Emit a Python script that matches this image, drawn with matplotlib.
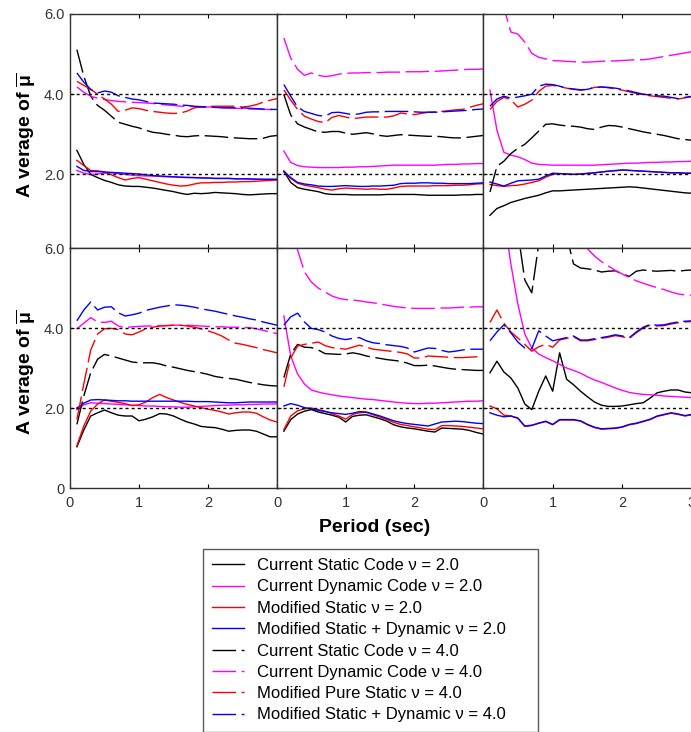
import numpy as np
import matplotlib
matplotlib.use('Agg')
import matplotlib.pyplot as plt

plt.rcParams['font.family'] = ['Liberation Sans', 'DejaVu Sans']
plt.rcParams['mathtext.fontset'] = 'custom'
plt.rcParams['mathtext.rm'] = 'Liberation Sans'
plt.rcParams['mathtext.bf'] = 'Liberation Sans:bold'
plt.rcParams['mathtext.it'] = 'Liberation Sans:italic'

# Period (sec)
period = np.round(np.arange(1, 31) * 0.1, 1)

# --- top-left panel
tl_static2 = [2.60, 2.25, 2.00, 1.92, 1.85, 1.80, 1.74, 1.71, 1.70, 1.70, 1.68, 1.66, 1.63, 1.60, 1.57,
              1.53, 1.50, 1.53, 1.52, 1.53, 1.55, 1.54, 1.53, 1.52, 1.50, 1.49, 1.50, 1.51, 1.52, 1.52]
tl_dyn2 = [2.10, 2.03, 2.00, 2.01, 2.03, 2.04, 2.02, 2.00, 1.98, 1.97, 1.96, 1.96, 1.95, 1.94, 1.94,
           1.93, 1.93, 1.92, 1.92, 1.91, 1.90, 1.90, 1.90, 1.89, 1.89, 1.88, 1.88, 1.87, 1.87, 1.87]
tl_mod2 = [2.35, 2.22, 2.10, 2.09, 2.06, 1.99, 1.92, 1.86, 1.90, 1.92, 1.88, 1.84, 1.80, 1.76, 1.73,
           1.71, 1.72, 1.76, 1.79, 1.79, 1.80, 1.80, 1.81, 1.81, 1.82, 1.82, 1.83, 1.84, 1.85, 1.86]
tl_mix2 = [2.20, 2.10, 2.07, 2.07, 2.06, 2.05, 2.04, 2.03, 2.02, 2.01, 1.99, 1.97, 1.96, 1.95, 1.94,
           1.93, 1.92, 1.92, 1.91, 1.91, 1.90, 1.90, 1.90, 1.89, 1.89, 1.89, 1.88, 1.88, 1.88, 1.88]
tl_static4 = [5.11, 4.45, 3.95, 3.72, 3.60, 3.45, 3.30, 3.25, 3.20, 3.16, 3.10, 3.05, 3.03, 3.00, 2.98,
              2.95, 2.94, 2.96, 2.97, 2.96, 2.95, 2.94, 2.92, 2.91, 2.90, 2.89, 2.89, 2.90, 2.95, 2.97]
tl_dyn4 = [4.18, 4.05, 3.95, 3.90, 3.87, 3.84, 3.82, 3.81, 3.80, 3.79, 3.78, 3.77, 3.75, 3.73, 3.72,
           3.70, 3.70, 3.69, 3.68, 3.68, 3.68, 3.67, 3.66, 3.65, 3.64, 3.63, 3.63, 3.62, 3.62, 3.62]
tl_mod4 = [4.32, 4.22, 4.12, 4.00, 3.88, 3.75, 3.57, 3.60, 3.66, 3.64, 3.60, 3.57, 3.55, 3.53, 3.52,
           3.53, 3.58, 3.66, 3.68, 3.69, 3.70, 3.70, 3.70, 3.70, 3.68, 3.70, 3.74, 3.80, 3.85, 3.89]
tl_mix4 = [4.53, 4.30, 4.12, 4.03, 4.08, 4.05, 3.96, 3.92, 3.88, 3.86, 3.82, 3.78, 3.77, 3.76, 3.75,
           3.73, 3.72, 3.70, 3.69, 3.68, 3.67, 3.66, 3.66, 3.66, 3.66, 3.65, 3.64, 3.63, 3.62, 3.62]

# --- top-middle panel
tm_static2 = [2.08, 1.80, 1.67, 1.63, 1.60, 1.57, 1.52, 1.50, 1.50, 1.50, 1.49, 1.49, 1.49, 1.49, 1.49,
              1.50, 1.50, 1.50, 1.50, 1.50, 1.49, 1.48, 1.48, 1.48, 1.48, 1.48, 1.49, 1.49, 1.50, 1.50]
tm_dyn2 = [2.58, 2.30, 2.22, 2.19, 2.18, 2.17, 2.17, 2.17, 2.17, 2.18, 2.18, 2.19, 2.19, 2.20, 2.21,
           2.22, 2.23, 2.23, 2.23, 2.23, 2.23, 2.23, 2.23, 2.24, 2.25, 2.25, 2.26, 2.26, 2.27, 2.27]
tm_mod2 = [2.06, 1.90, 1.78, 1.73, 1.70, 1.67, 1.63, 1.61, 1.64, 1.66, 1.65, 1.64, 1.63, 1.64, 1.63,
           1.63, 1.66, 1.70, 1.71, 1.71, 1.71, 1.71, 1.72, 1.72, 1.72, 1.73, 1.73, 1.74, 1.76, 1.77]
tm_mix2 = [2.08, 1.92, 1.80, 1.76, 1.74, 1.71, 1.70, 1.70, 1.71, 1.72, 1.71, 1.70, 1.70, 1.71, 1.71,
           1.72, 1.73, 1.77, 1.78, 1.78, 1.79, 1.79, 1.78, 1.78, 1.77, 1.77, 1.77, 1.77, 1.78, 1.79]
tm_static4 = [3.99, 3.48, 3.26, 3.18, 3.12, 3.06, 3.05, 3.07, 3.07, 3.03, 3.00, 3.02, 3.04, 3.01, 2.97,
              2.95, 2.97, 2.99, 2.98, 2.97, 2.96, 2.95, 2.95, 2.94, 2.92, 2.91, 2.91, 2.93, 2.95, 2.97]
tm_dyn4 = [5.40, 4.90, 4.62, 4.47, 4.53, 4.47, 4.44, 4.46, 4.50, 4.52, 4.53, 4.53, 4.54, 4.54, 4.54,
           4.55, 4.55, 4.55, 4.56, 4.56, 4.56, 4.57, 4.57, 4.58, 4.59, 4.60, 4.61, 4.62, 4.62, 4.63]
tm_mod4 = [4.11, 3.85, 3.62, 3.45, 3.38, 3.32, 3.29, 3.42, 3.47, 3.43, 3.39, 3.41, 3.43, 3.43, 3.43,
           3.43, 3.46, 3.53, 3.51, 3.49, 3.52, 3.55, 3.56, 3.57, 3.59, 3.61, 3.62, 3.67, 3.72, 3.76]
tm_mix4 = [4.24, 3.95, 3.68, 3.57, 3.52, 3.47, 3.45, 3.54, 3.55, 3.52, 3.49, 3.51, 3.55, 3.56, 3.56,
           3.57, 3.57, 3.57, 3.57, 3.56, 3.55, 3.55, 3.55, 3.56, 3.57, 3.58, 3.59, 3.60, 3.62, 3.63]

# --- top-right panel
tr_static2 = [0.98, 1.15, 1.22, 1.30, 1.35, 1.40, 1.44, 1.48, 1.54, 1.59, 1.59, 1.60, 1.61, 1.62, 1.63,
              1.64, 1.65, 1.66, 1.67, 1.68, 1.69, 1.68, 1.66, 1.64, 1.62, 1.60, 1.58, 1.56, 1.54, 1.53]
tr_dyn2 = [4.10, 3.10, 2.55, 2.48, 2.44, 2.37, 2.28, 2.25, 2.24, 2.23, 2.23, 2.23, 2.23, 2.23, 2.23,
           2.23, 2.24, 2.25, 2.26, 2.27, 2.28, 2.28, 2.29, 2.30, 2.30, 2.31, 2.31, 2.32, 2.32, 2.33]
tr_mod2 = [1.75, 1.72, 1.70, 1.72, 1.73, 1.76, 1.80, 1.84, 1.93, 2.00, 2.02, 2.01, 2.00, 2.01, 2.03,
           2.04, 2.06, 2.08, 2.10, 2.11, 2.10, 2.09, 2.08, 2.07, 2.06, 2.05, 2.04, 2.04, 2.03, 2.03]
tr_mix2 = [1.81, 1.76, 1.71, 1.78, 1.84, 1.85, 1.86, 1.88, 1.96, 2.03, 2.02, 2.01, 2.00, 2.01, 2.02,
           2.04, 2.06, 2.08, 2.09, 2.11, 2.10, 2.09, 2.08, 2.07, 2.06, 2.05, 2.04, 2.04, 2.03, 2.03]
tr_static4 = [1.56, 2.20, 2.33, 2.52, 2.65, 2.75, 2.91, 3.08, 3.25, 3.26, 3.23, 3.21, 3.20, 3.18, 3.14,
              3.12, 3.18, 3.22, 3.21, 3.18, 3.14, 3.10, 3.06, 3.03, 3.00, 2.97, 2.93, 2.89, 2.87, 2.85]
tr_dyn4 = [8.00, 7.00, 6.15, 5.55, 5.50, 5.30, 5.02, 4.92, 4.88, 4.84, 4.83, 4.82, 4.81, 4.80, 4.80,
           4.81, 4.82, 4.83, 4.83, 4.84, 4.85, 4.86, 4.86, 4.88, 4.91, 4.94, 4.97, 5.00, 5.03, 5.06]
tr_mod4 = [3.62, 3.82, 3.92, 3.86, 3.68, 3.75, 3.85, 4.07, 4.20, 4.22, 4.19, 4.15, 4.12, 4.10, 4.12,
           4.17, 4.18, 4.16, 4.13, 4.10, 4.06, 4.02, 3.99, 3.96, 3.94, 3.92, 3.90, 3.88, 3.91, 3.94]
tr_mix4 = [3.70, 3.88, 3.95, 3.90, 3.93, 3.96, 4.00, 4.20, 4.25, 4.24, 4.20, 4.15, 4.13, 4.11, 4.12,
           4.17, 4.18, 4.17, 4.15, 4.12, 4.08, 4.04, 4.00, 3.98, 3.96, 3.95, 3.92, 3.89, 3.92, 3.95]

# --- bottom-left panel
bl_static2 = [1.03, 1.45, 1.80, 1.88, 1.95, 1.88, 1.82, 1.80, 1.80, 1.68, 1.72, 1.78, 1.86, 1.85, 1.80,
              1.72, 1.65, 1.60, 1.54, 1.52, 1.51, 1.47, 1.42, 1.44, 1.45, 1.45, 1.42, 1.35, 1.28, 1.28]
bl_dyn2 = [1.96, 2.08, 2.13, 2.12, 2.11, 2.10, 2.09, 2.08, 2.07, 2.06, 2.05, 2.05, 2.04, 2.03, 2.03,
           2.02, 2.02, 2.03, 2.04, 2.05, 2.06, 2.07, 2.07, 2.08, 2.08, 2.09, 2.09, 2.10, 2.10, 2.10]
bl_mod2 = [1.06, 1.55, 1.92, 2.10, 2.20, 2.17, 2.14, 2.11, 2.06, 2.08, 2.15, 2.26, 2.34, 2.26, 2.20,
           2.14, 2.09, 2.05, 2.01, 1.97, 1.94, 1.90, 1.85, 1.88, 1.90, 1.90, 1.87, 1.78, 1.70, 1.65]
bl_mix2 = [2.00, 2.12, 2.20, 2.21, 2.20, 2.19, 2.18, 2.18, 2.17, 2.17, 2.17, 2.17, 2.17, 2.17, 2.17,
           2.17, 2.17, 2.16, 2.16, 2.16, 2.15, 2.14, 2.13, 2.13, 2.14, 2.15, 2.15, 2.15, 2.15, 2.15]
bl_static4 = [1.59, 2.30, 2.88, 3.22, 3.34, 3.30, 3.25, 3.20, 3.15, 3.13, 3.13, 3.13, 3.10, 3.05, 3.02,
              2.98, 2.94, 2.91, 2.88, 2.84, 2.79, 2.76, 2.74, 2.72, 2.68, 2.64, 2.61, 2.58, 2.56, 2.55]
bl_dyn4 = [3.98, 4.12, 4.26, 4.15, 4.14, 4.17, 4.05, 4.01, 4.03, 4.04, 4.05, 4.05, 4.06, 4.06, 4.07,
           4.07, 4.07, 4.06, 4.05, 4.04, 4.03, 4.03, 4.02, 4.02, 4.01, 4.01, 3.98, 3.94, 3.90, 3.86]
bl_mod4 = [1.71, 2.60, 3.45, 3.85, 3.98, 3.99, 3.96, 3.85, 3.83, 3.90, 3.98, 4.02, 4.05, 4.06, 4.07,
           4.07, 4.05, 4.02, 3.98, 3.93, 3.87, 3.80, 3.70, 3.62, 3.59, 3.55, 3.51, 3.46, 3.42, 3.38]
bl_mix4 = [4.18, 4.45, 4.65, 4.45, 4.52, 4.53, 4.38, 4.30, 4.33, 4.37, 4.44, 4.48, 4.52, 4.55, 4.58,
           4.57, 4.55, 4.52, 4.48, 4.45, 4.42, 4.38, 4.34, 4.30, 4.27, 4.23, 4.20, 4.15, 4.11, 4.07]

# --- bottom-middle panel
bm_static2 = [1.42, 1.71, 1.85, 1.92, 1.96, 1.90, 1.86, 1.82, 1.77, 1.65, 1.79, 1.82, 1.83, 1.78, 1.73,
              1.67, 1.58, 1.53, 1.50, 1.48, 1.45, 1.42, 1.40, 1.50, 1.49, 1.48, 1.47, 1.44, 1.39, 1.35]
bm_dyn2 = [4.30, 3.30, 2.85, 2.60, 2.45, 2.40, 2.36, 2.33, 2.30, 2.28, 2.26, 2.24, 2.22, 2.21, 2.19,
           2.17, 2.15, 2.13, 2.12, 2.11, 2.11, 2.12, 2.12, 2.13, 2.14, 2.15, 2.16, 2.17, 2.17, 2.18]
bm_mod2 = [1.46, 1.80, 1.93, 1.98, 2.00, 1.96, 1.92, 1.86, 1.80, 1.72, 1.84, 1.88, 1.89, 1.83, 1.77,
           1.71, 1.64, 1.59, 1.56, 1.53, 1.50, 1.47, 1.46, 1.56, 1.56, 1.55, 1.54, 1.52, 1.50, 1.48]
bm_mix2 = [2.05, 2.11, 2.07, 2.01, 1.98, 1.94, 1.91, 1.88, 1.86, 1.84, 1.87, 1.91, 1.90, 1.85, 1.80,
           1.74, 1.68, 1.64, 1.61, 1.59, 1.57, 1.55, 1.60, 1.65, 1.66, 1.67, 1.66, 1.64, 1.62, 1.61]
bm_static4 = [2.76, 3.35, 3.59, 3.52, 3.51, 3.45, 3.36, 3.35, 3.34, 3.35, 3.38, 3.35, 3.30, 3.27, 3.24,
              3.21, 3.19, 3.17, 3.12, 3.06, 3.06, 3.07, 3.05, 3.02, 2.99, 2.97, 2.96, 2.95, 2.94, 2.94]
bm_dyn4 = [7.50, 6.60, 5.95, 5.40, 5.15, 5.00, 4.90, 4.80, 4.74, 4.71, 4.70, 4.68, 4.65, 4.63, 4.60,
           4.57, 4.54, 4.52, 4.50, 4.49, 4.49, 4.49, 4.49, 4.50, 4.50, 4.51, 4.52, 4.52, 4.53, 4.53]
bm_mod4 = [2.53, 3.25, 3.55, 3.59, 3.62, 3.65, 3.56, 3.51, 3.49, 3.47, 3.52, 3.57, 3.52, 3.47, 3.45,
           3.43, 3.41, 3.39, 3.35, 3.25, 3.25, 3.30, 3.29, 3.28, 3.27, 3.26, 3.26, 3.27, 3.28, 3.28]
bm_mix4 = [4.07, 4.28, 4.37, 4.15, 3.99, 3.96, 3.90, 3.80, 3.74, 3.71, 3.74, 3.76, 3.68, 3.63, 3.61,
           3.58, 3.56, 3.54, 3.50, 3.40, 3.45, 3.50, 3.49, 3.44, 3.40, 3.42, 3.45, 3.47, 3.47, 3.47]

# --- bottom-right panel
br_static2 = [2.88, 3.17, 2.90, 2.75, 2.50, 2.10, 1.96, 2.42, 2.80, 2.42, 3.38, 2.72, 2.58, 2.42, 2.28,
              2.15, 2.07, 2.04, 2.04, 2.05, 2.08, 2.11, 2.13, 2.25, 2.38, 2.42, 2.45, 2.45, 2.40, 2.38]
br_dyn2 = [9.50, 8.00, 6.80, 5.60, 4.60, 3.85, 3.50, 3.35, 3.26, 3.18, 3.09, 3.00, 2.94, 2.87, 2.78,
           2.70, 2.64, 2.57, 2.50, 2.44, 2.39, 2.36, 2.34, 2.33, 2.32, 2.30, 2.29, 2.28, 2.27, 2.26]
br_mod2 = [2.05, 1.98, 1.82, 1.80, 1.74, 1.54, 1.56, 1.62, 1.66, 1.58, 1.70, 1.70, 1.70, 1.67, 1.58,
           1.51, 1.47, 1.48, 1.49, 1.52, 1.58, 1.61, 1.66, 1.71, 1.79, 1.83, 1.87, 1.84, 1.80, 1.83]
br_mix2 = [1.88, 1.82, 1.78, 1.80, 1.75, 1.55, 1.57, 1.62, 1.67, 1.59, 1.71, 1.71, 1.71, 1.68, 1.59,
           1.52, 1.48, 1.49, 1.50, 1.53, 1.59, 1.62, 1.67, 1.72, 1.80, 1.84, 1.88, 1.85, 1.81, 1.84]
br_static4 = [8.00, 7.50, 7.00, 6.70, 6.40, 5.20, 4.88, 6.10, 6.50, 6.80, 6.60, 6.30, 5.60, 5.50, 5.48,
              5.45, 5.40, 5.42, 5.43, 5.35, 5.29, 5.42, 5.45, 5.43, 5.42, 5.43, 5.44, 5.42, 5.44, 5.45]
br_dyn4 = [12.0, 11.0, 10.0, 9.50, 9.00, 8.50, 8.00, 7.60, 7.30, 7.00, 6.80, 6.60, 6.40, 6.20, 5.98,
           5.80, 5.66, 5.55, 5.44, 5.35, 5.26, 5.18, 5.12, 5.06, 5.01, 4.96, 4.90, 4.85, 4.83, 4.82]
br_mod4 = [4.14, 4.45, 4.12, 3.90, 3.75, 3.59, 3.42, 3.53, 3.59, 3.52, 3.70, 3.74, 3.78, 3.68, 3.68,
           3.71, 3.74, 3.77, 3.81, 3.78, 3.74, 3.88, 4.00, 4.07, 4.05, 4.06, 4.10, 4.13, 4.15, 4.16]
br_mix4 = [3.68, 3.90, 4.08, 3.88, 3.65, 3.50, 3.48, 3.93, 3.80, 3.68, 3.72, 3.76, 3.80, 3.70, 3.70,
           3.73, 3.76, 3.79, 3.83, 3.80, 3.76, 3.90, 4.02, 4.09, 4.07, 4.08, 4.12, 4.15, 4.17, 4.18]

labels = ['Current Static Code \u03bd = 2.0', 'Current Dynamic Code \u03bd = 2.0',
          'Modified Static \u03bd = 2.0', 'Modified Static + Dynamic \u03bd = 2.0',
          'Current Static Code \u03bd = 4.0', 'Current Dynamic Code \u03bd = 4.0',
          'Modified Pure Static \u03bd = 4.0', 'Modified Static + Dynamic \u03bd = 4.0']
colors = ['black', '#ff00ff', '#ff0000', '#0000ff'] * 2
dash = (0, (17, 4))
styles = ['-'] * 4 + [dash] * 4

panels = [
    [tl_static2, tl_dyn2, tl_mod2, tl_mix2, tl_static4, tl_dyn4, tl_mod4, tl_mix4],
    [tm_static2, tm_dyn2, tm_mod2, tm_mix2, tm_static4, tm_dyn4, tm_mod4, tm_mix4],
    [tr_static2, tr_dyn2, tr_mod2, tr_mix2, tr_static4, tr_dyn4, tr_mod4, tr_mix4],
    [bl_static2, bl_dyn2, bl_mod2, bl_mix2, bl_static4, bl_dyn4, bl_mod4, bl_mix4],
    [bm_static2, bm_dyn2, bm_mod2, bm_mix2, bm_static4, bm_dyn4, bm_mod4, bm_mix4],
    [br_static2, br_dyn2, br_mod2, br_mix2, br_static4, br_dyn4, br_mod4, br_mix4],
]

W, H = 691, 732
fig = plt.figure(figsize=(W / 100, H / 100), dpi=100)

col_left = [70, 277, 483]
col_w = [207, 206, 209]
row_top = [14, 248]
row_h = [234, 240]

handles = []
for i, series in enumerate(panels):
    r, c = divmod(i, 3)
    ax = fig.add_axes([col_left[c] / W, 1 - (row_top[r] + row_h[r]) / H, col_w[c] / W, row_h[r] / H])
    for k, y in enumerate(series):
        ln, = ax.plot(period, y, color=colors[k], linestyle=styles[k], lw=1.0, label=labels[k])
        if i == 0:
            handles.append(ln)
    for ref in (2.0, 4.0):
        ax.axhline(ref, color='black', lw=1.0, linestyle=(0, (2.2, 2.2)))
    ax.set_xlim(0, 3)
    if r == 0:
        ax.set_ylim(6 - row_h[r] / 40.1, 6)
        ax.set_yticks([2, 4, 6])
        ax.set_yticklabels(['2.0', '4.0', '6.0'])
    else:
        ax.set_ylim(0, 6)
        ax.set_yticks([0, 2, 4, 6])
        ax.set_yticklabels(['0', '2.0', '4.0', '6.0'])
    ax.set_xticks([0, 1, 2, 3])
    if r == 1:
        ax.set_xticklabels(['0', '1', '2', '3' if c == 2 else ''])
    else:
        ax.set_xticklabels([])
    if c != 0:
        ax.set_yticklabels([])
    ax.tick_params(direction='in', top=True, length=3, width=0.8, labelsize=10.5,
                   labelcolor='#333333', pad=4)
    ax.tick_params(axis='x', pad=6)
    for s in ax.spines.values():
        s.set_color('#333333')
        s.set_linewidth(1.0)

ylab = 'A verage of $\\overline{\\mathbf{\\mu}}$'
for r in range(2):
    yc = 1 - (row_top[r] + row_h[r] / 2 + 4) / H
    fig.text(26 / W, yc, ylab, rotation=90, ha='center', va='center',
             fontsize=14, fontweight='bold')

fig.text(375 / W, 1 - 527 / H, 'Period (sec)', ha='center', va='center',
         fontsize=14, fontweight='bold')

leg = fig.legend(handles=handles, loc='upper left',
                 bbox_to_anchor=(203 / W, 1 - 730 / H, 335 / W, 181 / H), mode='expand',
                 fontsize=12, frameon=True, fancybox=False, handlelength=1.92,
                 handletextpad=0.78, labelspacing=0.38, borderpad=0.55, borderaxespad=0)
leg.get_frame().set_edgecolor('#333333')
leg.get_frame().set_linewidth(1.0)

fig.savefig('out.png', dpi=100)
